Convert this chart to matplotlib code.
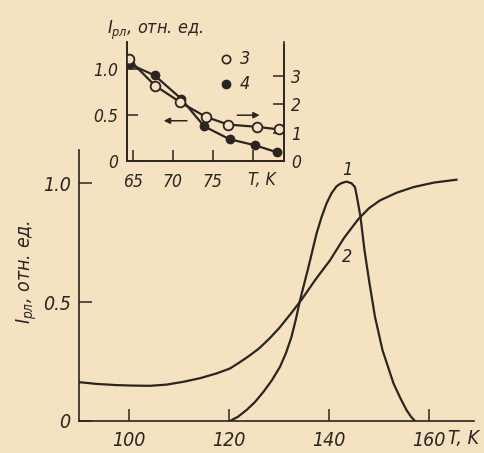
import matplotlib
matplotlib.use('Agg')
import matplotlib.pyplot as plt

plt.rcParams['font.family'] = ['DejaVu Sans']
plt.rcParams['font.style'] = 'italic'
plt.rcParams['font.stretch'] = 'condensed'
plt.rcParams['mathtext.fontset'] = 'custom'
plt.rcParams['mathtext.it'] = 'DejaVu Sans:style=italic:stretch=condensed'
plt.rcParams['mathtext.rm'] = 'DejaVu Sans:style=italic:stretch=condensed'

# main plot, curve 1 (peak) and curve 2 (rising)
t1 = [120.2, 121.8, 123.5, 125.2, 126.9, 128.6, 130.2, 131.4, 132.5, 133.4,
      134.2, 135.9, 137.5, 138.5, 139.5, 140.5, 141.5, 142.4, 143.5, 144.5,
      145.2, 145.7, 146.3, 147.1, 148.1, 149.2, 150.7, 152.9, 154.3, 155.5,
      156.4, 157.2]
i1 = [0.0, 0.018, 0.046, 0.08, 0.123, 0.172, 0.228, 0.286, 0.354, 0.43,
      0.508, 0.648, 0.788, 0.857, 0.915, 0.958, 0.987, 1.0, 1.007, 1.0,
      0.984, 0.93, 0.858, 0.718, 0.579, 0.438, 0.298, 0.158, 0.095, 0.046,
      0.018, 0.0]
t2 = [90.2, 93.5, 97.5, 100.8, 104.2, 107.5, 110.9, 114.2, 117.5, 120.2,
      122.0, 123.9, 126.0, 128.0, 130.0, 132.5, 134.5, 137.3, 140.2, 143.0,
      145.9, 148.0, 150.2, 153.5, 156.9, 161.0, 165.5]
i2 = [0.163, 0.156, 0.151, 0.149, 0.148, 0.153, 0.165, 0.18, 0.2, 0.221,
      0.245, 0.272, 0.305, 0.345, 0.39, 0.455, 0.51, 0.595, 0.676, 0.77,
      0.85, 0.895, 0.928, 0.96, 0.984, 1.003, 1.015]
main_xticks = [100, 120, 140, 160]
main_yticks = [0, 0.5, 1.0]
main_ylabels = ['0', '0.5', '1.0']

# inset: series 3 (open, right axis), series 4 (filled, left axis)
t3 = [64.5, 67.75, 70.9, 74.1, 76.9, 80.5, 83.25]
i3 = [3.56, 2.65, 2.07, 1.56, 1.29, 1.21, 1.12]
t4 = [64.6, 67.7, 71.0, 73.9, 77.1, 80.25, 83.0]
i4 = [1.05, 0.93, 0.68, 0.38, 0.24, 0.176, 0.10]
ins_xticks = [65, 70, 75, 80]
ins_xlabels = ['65', '70', '75', '']
ins_yticks = [0, 0.5, 1.0]
ins_ylabels = ['0', '0.5', '1.0']
ins_rticks = [0, 1, 2, 3]

bg = '#f5e2c0'
ink = '#2a2522'

W, H = 485, 453
fig = plt.figure(figsize=(W / 100, H / 100), dpi=100, facecolor=bg)


def box(x0, y0, x1, y1):
    return [x0 / W, 1 - y1 / H, (x1 - x0) / W, (y1 - y0) / H]


ax = fig.add_axes(box(79, 150, 474, 421))
ax.set_facecolor(bg)
ax.plot(t1, i1, color=ink, lw=1.6)
ax.plot(t2, i2, color=ink, lw=1.6)
ax.set_xlim(90, 169)
ax.set_ylim(0, 1.14)
for s in ['top', 'right']:
    ax.spines[s].set_visible(False)
for s in ['left', 'bottom']:
    ax.spines[s].set_color(ink)
    ax.spines[s].set_linewidth(1.2)
ax.set_xticks(main_xticks)
ax.set_yticks(main_yticks)
ax.set_yticklabels(main_ylabels)
ax.tick_params(direction='in', length=9, width=1.1, colors=ink, labelsize=14)
ax.tick_params(axis='x', pad=7)
ax.tick_params(axis='y', pad=6)
ax.text(163.8, -0.035, 'T, K', ha='left', va='top', fontsize=14, color=ink)
ax.text(143.6, 1.055, '1', ha='center', va='center', fontsize=13, color=ink)
ax.text(143.6, 0.69, '2', ha='center', va='center', fontsize=13, color=ink)
fig.text(27 / W, 1 - 272 / H, r'$I_{рл}$, отн. ед.', rotation=90,
         ha='center', va='center', fontsize=14, color=ink)

# inset
ia = fig.add_axes(box(127, 42, 284, 161.5))
ia.set_facecolor('none')
ia.plot(t4, i4, color=ink, lw=1.6, marker='o', ms=6, mfc=ink, mec=ink)
ia.set_xlim(64.25, 83.9)
ia.set_ylim(0, 1.29)
ra = ia.twinx()
ra.plot(t3, i3, color=ink, lw=1.6, marker='o', ms=7, mfc=bg, mec=ink, mew=1.3)
ra.set_ylim(0, 4.17)
for a in [ia, ra]:
    a.spines['top'].set_visible(False)
    for s in ['left', 'right', 'bottom']:
        a.spines[s].set_color(ink)
        a.spines[s].set_linewidth(1.2)
ra.spines['right'].set_bounds(0, 4.07)
ia.set_xticks(ins_xticks)
ia.set_xticklabels(ins_xlabels)
ia.set_yticks(ins_yticks)
ia.set_yticklabels(ins_ylabels)
ra.set_yticks(ins_rticks)
ia.tick_params(direction='in', length=8, width=1.1, colors=ink, labelsize=12.5)
ia.tick_params(axis='x', pad=8)
ia.tick_params(axis='y', pad=6)
ra.tick_params(direction='in', length=8, width=1.1, colors=ink, labelsize=12.5, pad=5)
ia.text(81.1, -0.1, 'T, K', ha='center', va='top', fontsize=12.5, color=ink)

ia.annotate('', xy=(68.5, 0.44), xytext=(72.1, 0.44),
            arrowprops=dict(arrowstyle='-|>', color=ink, lw=1.1, mutation_scale=9))
ia.annotate('', xy=(81.2, 0.50), xytext=(77.7, 0.50),
            arrowprops=dict(arrowstyle='-|>', color=ink, lw=1.1, mutation_scale=9))

ia.plot([76.7], [1.11], marker='o', ms=6, mfc=bg, mec=ink, mew=1.2, clip_on=False)
ia.plot([76.6], [0.84], marker='o', ms=6, mfc=ink, mec=ink, clip_on=False)
ia.text(78.4, 1.11, '3', ha='left', va='center', fontsize=13, color=ink)
ia.text(78.4, 0.84, '4', ha='left', va='center', fontsize=13, color=ink)
fig.text(155 / W, 1 - 30 / H, r'$I_{рл}$, отн. ед.', ha='center', va='center',
         fontsize=13, color=ink)

fig.savefig('out.png', dpi=100, facecolor=bg)
